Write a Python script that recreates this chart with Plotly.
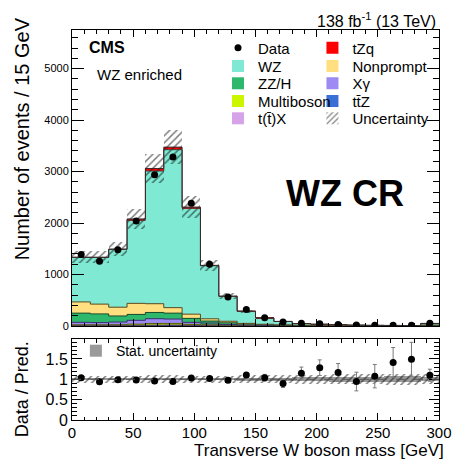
import numpy as np
import plotly.graph_objects as go

# ---------------- data ----------------
bin_centers = [7.5, 22.5, 37.5, 52.5, 67.5, 82.5, 97.5, 112.5, 127.5, 142.5,
               157.5, 172.5, 187.5, 202.5, 217.5, 232.5, 247.5, 262.5, 277.5, 292.5]
bin_edges = [0, 15, 30, 45, 60, 75, 90, 105, 120, 135, 150, 165, 180, 195,
             210, 225, 240, 255, 270, 285, 300]

data_counts = [1390, 1256, 1480, 2038, 2936, 3282, 2385, 1198, 565, 320,
               162, 80, 55, 45, 28, 17, 14, 15, 13, 55]

ttz = [5, 5, 5, 6, 7, 8, 7, 6, 5, 4, 3, 2, 2, 1, 1, 1, 1, 1, 0.5, 2]
ttx = [8, 8, 8, 10, 12, 12, 10, 8, 6, 5, 3, 2, 2, 1, 1, 1, 0.5, 0.5, 0.5, 2]
multiboson = [10, 10, 12, 20, 30, 30, 15, 10, 6, 4, 3, 2, 1, 1, 1, 0.5, 0.5, 0.5, 0.5, 2]
xgamma = [48, 44, 52, 74, 93, 85, 39, 34, 13, 5, 3, 2, 1, 1, 1, 1, 0.5, 0.5, 0.5, 2]
zzh = [179, 168, 118, 115, 121, 115, 77, 38, 33, 18, 12, 8, 6, 5, 4, 3, 2, 2, 1.5, 6]
nonprompt = [218, 190, 170, 215, 170, 106, 82, 44, 29, 15, 10, 6, 4, 3, 2, 2, 1.5, 1, 1, 3]
wz = [865, 907, 1122, 1615, 2577, 3069, 2060, 1030, 485, 237, 121, 66, 31.5, 22.5,
      13.5, 9.2, 6.7, 4.9, 4.0, 32]
tzq = [3, 4, 8, 25, 50, 50, 20, 8, 3, 2, 1, 1, 0.5, 0.5, 0.5, 0.3, 0.3, 0.2, 0.2, 1]

syst_unc = [0.09, 0.09, 0.09, 0.09, 0.095, 0.095, 0.09, 0.09, 0.09, 0.10,
            0.10, 0.10, 0.11, 0.11, 0.12, 0.12, 0.12, 0.13, 0.13, 0.12]
stat_unc = [0.01, 0.01, 0.01, 0.01, 0.008, 0.008, 0.01, 0.01, 0.015, 0.02,
            0.03, 0.035, 0.045, 0.05, 0.06, 0.06, 0.065, 0.07, 0.07, 0.05]

x_ticks = [0, 50, 100, 150, 200, 250, 300]
y_ticks = [0, 1000, 2000, 3000, 4000, 5000]
r_ticks = [0, 0.5, 1, 1.5]

# ---------------- geometry / style ----------------
FONT = "Liberation Sans"
W, H = 464, 460
ML, MR, MT, MB = 72, 15, 30, 40
PW, PH = W - ML - MR, H - MT - MB


def px(x):
    return (x - ML) / PW


def py(y):
    return (MT + PH - y) / PH


stack = [
    ("tt\u0304Z", ttz, "#3a6fd6", "#1f3a70"),
    ("t(t\u0304)X", ttx, "#d7a3e8", "#5a3a66"),
    ("Multiboson", multiboson, "#ccf500", "#55600a"),
    ("X\u03b3", xgamma, "#9d8af2", "#3b3070"),
    ("ZZ/H", zzh, "#2eb86b", "#1d4a2c"),
    ("Nonprompt", nonprompt, "#ffdf80", "#5a4a20"),
    ("WZ", wz, "#7fe9d3", "#3a4a46"),
    ("tZq", tzq, "#ff0000", "#3a2a2a"),
]

# legend slots: (text start x px, row centre y px)
legend_slots = {
    "Data": (261, 47.7), "WZ": (261, 66.0), "ZZ/H": (261, 83.3),
    "Multiboson": (261, 101.0), "t(t\u0304)X": (261, 118.3),
    "tZq": (358, 47.7), "Nonprompt": (358, 66.0), "X\u03b3": (358, 83.3),
    "tt\u0304Z": (358, 101.0), "Uncertainty": (358, 118.3),
    "Stat. uncertainty": (115, 350.7),
}
legend_ids = {}
legend_layout = {}
for i, nm in enumerate(legend_slots):
    lid = "legend" if i == 0 else f"legend{i + 1}"
    legend_ids[nm] = lid
    tx, ry = legend_slots[nm]
    size = 14 if nm == "Stat. uncertainty" else 15
    h = max(size * 1.3, 16) + 3
    top = ry - (5 + h / 2)
    legend_layout[lid] = dict(
        x=px(tx - 39), y=py(top), xanchor="left", yanchor="top",
        bgcolor="rgba(0,0,0,0)", borderwidth=0, traceorder="normal",
        font=dict(family=FONT, size=size, color="black"),
    )

pred = np.sum([np.array(v, dtype=float) for _, v, _, _ in stack], axis=0)
data_arr = np.array(data_counts, dtype=float)
syst_arr = np.array(syst_unc)
stat_arr = np.array(stat_unc)
ratio = data_arr / pred
ratio_err = np.sqrt(data_arr) / pred

hatch = dict(shape="/", fgcolor="black", bgcolor="rgba(0,0,0,0)", size=5, solidity=0.3)

fig = go.Figure()

# stacked histograms (fills)
for name, vals, col, lcol in stack:
    fig.add_trace(go.Bar(
        x=bin_centers, y=vals, width=15, name=name,
        marker=dict(color=col, line=dict(width=0)),
        legend=legend_ids[name], xaxis="x", yaxis="y", hoverinfo="skip",
    ))

# total uncertainty (hatched); a bar with its own base is overlaid, not stacked
fig.add_trace(go.Bar(
    x=bin_centers, y=2 * pred * syst_arr, base=pred * (1 - syst_arr), width=15,
    name="Uncertainty", legend=legend_ids["Uncertainty"],
    marker=dict(color="rgba(0,0,0,0)", line=dict(width=0), pattern=hatch),
    xaxis="x", yaxis="y", hoverinfo="skip",
))

# step outlines of each stacked layer
for name, vals, col, lcol in stack:
    fig.add_trace(go.Scatter(
        x=bin_edges, y=list(vals) + [vals[-1]], mode="lines",
        line=dict(shape="hv", color=lcol, width=1),
        stackgroup="outline", fill="none", showlegend=False,
        xaxis="x", yaxis="y", hoverinfo="skip",
    ))

# data
fig.add_trace(go.Scatter(
    x=bin_centers, y=data_counts, mode="markers", name="Data",
    legend=legend_ids["Data"],
    marker=dict(color="black", size=7),
    error_y=dict(type="data", array=np.sqrt(data_arr), color="black",
                 thickness=1, width=0),
    xaxis="x", yaxis="y",
))

# ratio: stat band
fig.add_trace(go.Bar(
    x=bin_centers, y=2 * stat_arr, base=1 - stat_arr, width=15,
    name="Stat. uncertainty", legend=legend_ids["Stat. uncertainty"],
    marker=dict(color="#9a9a9a", line=dict(width=0)),
    xaxis="x2", yaxis="y2", hoverinfo="skip",
))
# ratio: total uncertainty hatch
fig.add_trace(go.Bar(
    x=bin_centers, y=2 * syst_arr, base=1 - syst_arr, width=15, showlegend=False,
    marker=dict(color="rgba(0,0,0,0)", line=dict(width=0), pattern=hatch),
    xaxis="x2", yaxis="y2", hoverinfo="skip",
))
# ratio points
fig.add_trace(go.Scatter(
    x=bin_centers, y=ratio, mode="markers", showlegend=False,
    marker=dict(color="black", size=7),
    error_y=dict(type="data", array=ratio_err, color="#7a7a7a", thickness=1, width=2),
    xaxis="x2", yaxis="y2",
))

main_bottom = py(326)
ratio_top = py(339)

axis_common = dict(
    showline=True, linecolor="black", linewidth=1, mirror="allticks",
    ticks="inside", tickcolor="black", tickwidth=1, showgrid=False, zeroline=False,
)

fig.update_layout(
    width=W, height=H,
    margin=dict(l=ML, r=MR, t=MT, b=MB),
    paper_bgcolor="white", plot_bgcolor="white",
    font=dict(family=FONT, color="black"),
    barmode="stack", bargap=0,
    xaxis=dict(domain=[0, 1], anchor="y", range=[0, 300], tickvals=x_ticks,
               showticklabels=False, ticklen=7,
               minor=dict(ticks="inside", ticklen=3.5, dtick=10, tick0=0,
                          tickcolor="black", showgrid=False),
               **axis_common),
    yaxis=dict(domain=[main_bottom, 1], anchor="x", range=[0, 5750],
               tickvals=y_ticks, tickformat="d", ticklen=12,
               tickfont=dict(size=11, family=FONT),
               minor=dict(ticks="inside", ticklen=6, dtick=200, tick0=0,
                          tickcolor="black", showgrid=False),
               **axis_common),
    xaxis2=dict(domain=[0, 1], anchor="y2", range=[0, 300], tickvals=x_ticks,
                ticklen=7, tickfont=dict(size=15, family=FONT),
                ticklabelstandoff=-1,
                minor=dict(ticks="inside", ticklen=3.5, dtick=10, tick0=0,
                           tickcolor="black", showgrid=False),
                **axis_common),
    yaxis2=dict(domain=[0, ratio_top], anchor="x2", range=[0, 1.99],
                tickvals=r_ticks, ticklen=10, tickfont=dict(size=16, family=FONT),
                minor=dict(ticks="inside", ticklen=5, dtick=0.1, tick0=0,
                           tickcolor="black", showgrid=False),
                **axis_common),
    showlegend=True,
    **legend_layout,
)

fig.add_shape(type="line", xref="x2", yref="y2", x0=0, x1=300, y0=1, y1=1,
              line=dict(color="#555555", width=1, dash="dash"), layer="above")

annots = [
    dict(text="<b>CMS</b>", x=px(87), y=py(47.5), xanchor="left", yanchor="middle",
         font=dict(size=16, family=FONT)),
    dict(text="WZ enriched", x=px(96), y=py(74), xanchor="left", yanchor="middle",
         font=dict(size=15, family=FONT)),
    dict(text="138 fb<sup>-1</sup> (13 TeV)", x=px(448), y=py(20), xanchor="right",
         yanchor="middle", font=dict(size=16, family=FONT)),
    dict(text="<b>WZ CR</b>", x=px(352), y=py(194), xanchor="center", yanchor="middle",
         font=dict(size=36, family=FONT)),
    dict(text="Number of events / 15 GeV", x=px(21), y=py(139), textangle=-90,
         xanchor="center", yanchor="middle", font=dict(size=20, family=FONT)),
    dict(text="Data / Pred.", x=px(21), y=py(389), textangle=-90,
         xanchor="center", yanchor="middle", font=dict(size=18, family=FONT)),
    dict(text="Transverse W boson mass [GeV]", x=px(326), y=py(450.2),
         xanchor="center", yanchor="middle", borderpad=0,
         font=dict(size=17, family=FONT)),
]
for a in annots:
    fig.add_annotation(xref="paper", yref="paper", showarrow=False, **a)

fig.write_html("out.html")
